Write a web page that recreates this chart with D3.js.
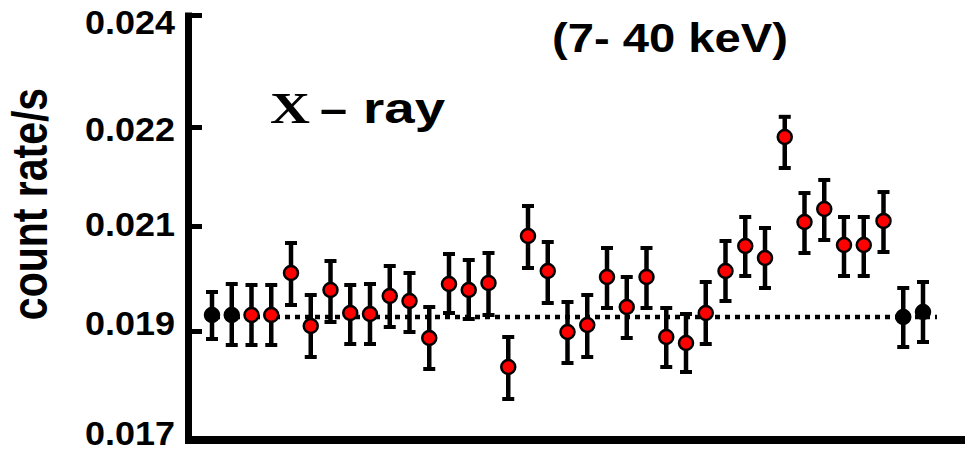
<!DOCTYPE html>
<html lang="en">
<head>
<meta charset="utf-8">
<title>X-ray count rate</title>
<script src="https://cdn.jsdelivr.net/npm/d3@7"></script>
<style>
  body { margin: 0; background: #fff; }
  svg { display: block; }
  text { font-family: "Liberation Sans", Arial, sans-serif; font-weight: bold; fill: #000; }
</style>
</head>
<body>
<script>
// time bins (left to right)
var bins = [1, 2, 3, 4, 5, 6, 7, 8, 9, 10, 11, 12, 13, 14, 15, 16, 17, 18, 19,
            20, 21, 22, 23, 24, 25, 26, 27, 28, 29, 30, 31, 32, 33, 34, 35, 36, 37];

// count rate (counts/s), 7-40 keV
var rate = [0.019305, 0.019305, 0.019305, 0.019305, 0.020105, 0.019095, 0.019781, 0.019343,
            0.019324, 0.019667, 0.019571, 0.018872, 0.019895, 0.019781, 0.019914, 0.018339,
            0.020810, 0.020143, 0.018982, 0.019114, 0.020029, 0.019457, 0.020029, 0.018890,
            0.018780, 0.019343, 0.020143, 0.020619, 0.020390, 0.021899, 0.021040, 0.021172,
            0.020638, 0.020638, 0.021051, 0.019267, 0.019362];

var upper = [0.019743, 0.019895, 0.019876, 0.019876, 0.020676, 0.019686, 0.020333, 0.019876,
             0.019895, 0.020238, 0.020105, 0.019457, 0.020467, 0.020352, 0.020486, 0.018890,
             0.021202, 0.020695, 0.019552, 0.019686, 0.020581, 0.020029, 0.020581, 0.019438,
             0.019324, 0.019933, 0.020714, 0.021091, 0.020962, 0.022182, 0.021333, 0.021465,
             0.021091, 0.021091, 0.021343, 0.019819, 0.019933];

var lower = [0.018853, 0.018743, 0.018743, 0.018743, 0.019495, 0.018523, 0.019171, 0.018761,
             0.018761, 0.019076, 0.018982, 0.018303, 0.019343, 0.019229, 0.019305, 0.017752,
             0.020200, 0.019533, 0.018413, 0.018523, 0.019438, 0.018872, 0.019438, 0.018339,
             0.018248, 0.018761, 0.019571, 0.020048, 0.019819, 0.021586, 0.020486, 0.020733,
             0.020048, 0.020048, 0.020505, 0.018706, 0.018798];

// bins outside the event (drawn black)
var blackBins = [1, 2, 36, 37];

var baseline = 0.019267;

var yTicks = [0.017, 0.019, 0.021, 0.022, 0.024];

var W = 969, H = 450;

var svg = d3.select("body").append("svg")
    .attr("width", W)
    .attr("height", H);

var x = d3.scaleLinear()
    .domain([bins[0], bins[bins.length - 1]])
    .range([212, 923]);

// the printed axis is not evenly spaced, so map piecewise through the tick values
var y = d3.scaleLinear()
    .domain(yTicks)
    .range([440, 331, 226, 127, 15]);

// baseline level (dotted)
svg.append("line")
    .attr("x1", x(bins[0]) - 7)
    .attr("x2", x(bins[bins.length - 1]) + 14)
    .attr("y1", y(baseline))
    .attr("y2", y(baseline))
    .attr("stroke", "#000")
    .attr("stroke-width", 4.5)
    .attr("stroke-dasharray", "5,5");

// y axis
var yAxis = d3.axisLeft(y)
    .tickValues(yTicks)
    .tickFormat(d3.format(".3f"))
    .tickSize(-17)
    .tickPadding(10);

var gy = svg.append("g")
    .attr("transform", "translate(185,0)")
    .call(yAxis);

gy.select(".domain").remove();
gy.selectAll(".tick line")
    .attr("stroke", "#000")
    .attr("stroke-width", 5);

var labelNudge = [4, 3, 9, 13, 18];
gy.selectAll(".tick text")
    .attr("font-family", null)
    .attr("font-size", null)
    .style("font-size", "33px")
    .attr("dy", null)
    .attr("y", function(d, i) { return labelNudge[i]; })
    .attr("textLength", 90)
    .attr("lengthAdjust", "spacingAndGlyphs");

svg.append("line")
    .attr("x1", 188.5).attr("x2", 188.5)
    .attr("y1", 12.5).attr("y2", 444)
    .attr("stroke", "#000")
    .attr("stroke-width", 7);

// x axis (no ticks)
svg.append("line")
    .attr("x1", 185).attr("x2", 965)
    .attr("y1", y(yTicks[0])).attr("y2", y(yTicks[0]))
    .attr("stroke", "#000")
    .attr("stroke-width", 8);

// points with error bars
var pts = bins.map(function(b, i) {
  return { bin: b, v: rate[i], hi: upper[i], lo: lower[i], black: blackBins.indexOf(b) >= 0 };
});

var g = svg.append("g").selectAll("g")
    .data(pts)
    .enter()
    .append("g");

g.append("line")
    .attr("x1", function(d) { return x(d.bin); })
    .attr("x2", function(d) { return x(d.bin); })
    .attr("y1", function(d) { return y(d.hi); })
    .attr("y2", function(d) { return y(d.lo); })
    .attr("stroke", "#000")
    .attr("stroke-width", 4.5);

g.selectAll(".cap")
    .data(function(d) { return [{ bin: d.bin, v: d.hi }, { bin: d.bin, v: d.lo }]; })
    .enter()
    .append("line")
    .attr("class", "cap")
    .attr("x1", function(d) { return x(d.bin) - 6; })
    .attr("x2", function(d) { return x(d.bin) + 6; })
    .attr("y1", function(d) { return y(d.v); })
    .attr("y2", function(d) { return y(d.v); })
    .attr("stroke", "#000")
    .attr("stroke-width", 4);

g.append("circle")
    .attr("cx", function(d) { return x(d.bin); })
    .attr("cy", function(d) { return y(d.v); })
    .attr("r", 7)
    .attr("fill", function(d) { return d.black ? "#000" : "#f00"; })
    .attr("stroke", "#000")
    .attr("stroke-width", 2.5);

// labels
svg.append("text")
    .attr("x", 552)
    .attr("y", 52)
    .style("font-size", "40px")
    .attr("textLength", 236)
    .attr("lengthAdjust", "spacingAndGlyphs")
    .text("(7- 40 keV)");

svg.append("text")
    .attr("x", 270)
    .attr("y", 123)
    .style("font-family", "'Liberation Serif', 'Times New Roman', serif")
    .style("font-size", "45px")
    .attr("textLength", 40)
    .attr("lengthAdjust", "spacingAndGlyphs")
    .text("X");

svg.append("text")
    .attr("x", 320)
    .attr("y", 123)
    .style("font-size", "42px")
    .attr("textLength", 27)
    .attr("lengthAdjust", "spacingAndGlyphs")
    .text("\u2013");

svg.append("text")
    .attr("x", 363)
    .attr("y", 123)
    .style("font-size", "42px")
    .attr("textLength", 82)
    .attr("lengthAdjust", "spacingAndGlyphs")
    .text("ray");

svg.append("text")
    .attr("transform", "translate(47,204) scale(1.2,1) rotate(-90)")
    .attr("text-anchor", "middle")
    .style("font-size", "41px")
    .text("count rate/s");
</script>
</body>
</html>
